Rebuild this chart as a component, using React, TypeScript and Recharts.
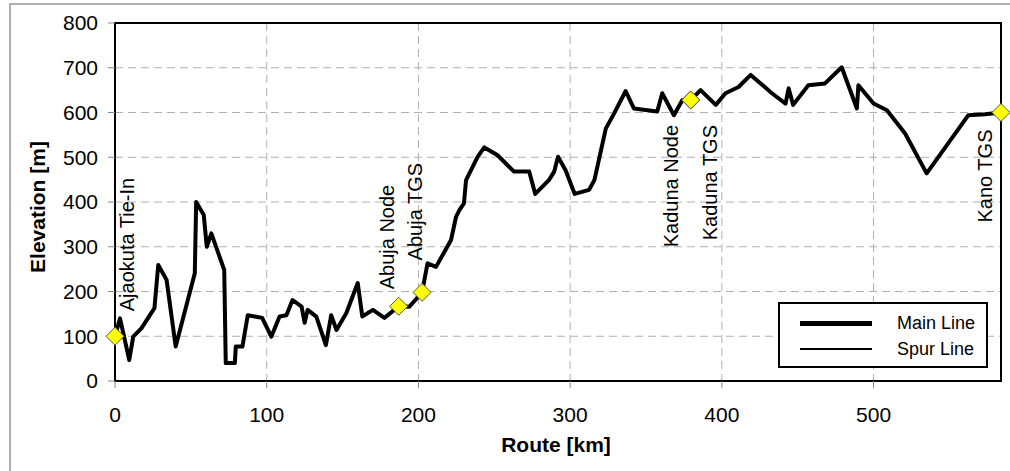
import React from 'react';
import {
  ComposedChart,
  Line,
  XAxis,
  YAxis,
  CartesianGrid,
  Legend,
  ReferenceArea,
  ReferenceDot,
  Label,
} from 'recharts';

// route profile (km, m)
const routeKm = [
  0, 3.3, 9.4, 12, 17.5, 26, 28.5, 34, 40, 52.6, 53.5, 58.5, 60.5, 63.5, 72, 73, 79, 79.6, 84, 87.5,
  97, 103, 108.5, 113, 117, 123, 125, 127, 132.7, 139, 142.5, 146, 152.5, 160, 163, 170, 177.6, 187, 194, 202.4,
  206, 211.6, 221.5, 224.8, 227, 230, 231.4, 239, 243.4, 252, 263, 273, 277, 286, 289.5, 292, 297, 303, 312.5, 316,
  323.5, 329, 336.6, 342, 357.4, 360.7, 368.4, 374, 379.5, 386, 396, 402.4, 411, 419, 433, 442, 444, 447, 457, 468,
  479, 489, 490, 500, 508.8, 520.8, 535, 562.5, 573.5, 584,
];
const routeElev = [
  100, 140, 47, 99, 118, 163, 259, 226, 77, 241, 400, 371, 300, 330, 248, 40, 40, 77, 77, 147,
  141, 99, 144, 147, 181, 166, 130, 159, 144, 80, 147, 114, 152, 219, 144, 159, 141, 167, 166, 198,
  263, 255, 315, 367, 382, 397, 449, 501, 522, 505, 468, 468, 418, 449, 468, 501, 471, 418, 427, 449,
  564, 598, 648, 609, 602, 643, 594, 628, 628, 650, 617, 643, 657, 684, 643, 620, 654, 617, 661, 665,
  701, 609, 661, 620, 605, 553, 464, 594, 596, 600,
];

// spur between Abuja Node and Abuja TGS
const spurKm = [187, 194, 202.4];
const spurElev = [167, 166, 198];

const stationNames = ['Ajaokuta Tie-In', 'Abuja Node', 'Abuja TGS', 'Kaduna Node', 'Kaduna TGS', 'Kano TGS'];
const stationKm = [0, 187, 202.4, 379.5, 379.5, 584];
const stationElev = [100, 167, 198, 628, 628, 600];

const xTicks = [0, 100, 200, 300, 400, 500];
const yTicks = [0, 100, 200, 300, 400, 500, 600, 700, 800];

// where each station name sits relative to its marker (px), and whether it hangs below
const labelPlacement = [
  { dx: 19, dy: -25, below: false },
  { dx: -5, dy: -17, below: false },
  { dx: 0, dy: -32, below: false },
  { dx: -13, dy: 25, below: true },
  { dx: 26, dy: 25, below: true },
  { dx: -9, dy: 17, below: true },
];

const mainData = routeKm.map((km, i) => ({ km, elev: routeElev[i] }));
const spurData = spurKm.map((km, i) => ({ km, elev: spurElev[i] }));

const FONT = 'Arial, "Liberation Sans", sans-serif';

function stationShape(i: number) {
  return (props: any) => {
    const { cx, cy } = props;
    const p = labelPlacement[i];
    const tx = cx + p.dx;
    const ty = cy + p.dy;
    return (
      <g>
        <polygon
          points={`${cx},${cy - 9} ${cx + 9},${cy} ${cx},${cy + 9} ${cx - 9},${cy}`}
          fill="#ffff00"
          stroke="#555"
          strokeWidth={1}
        />
        <text
          x={tx}
          y={ty}
          transform={`rotate(-90 ${tx} ${ty})`}
          textAnchor={p.below ? 'end' : 'start'}
          fontSize={20}
          fontFamily={FONT}
          fill="#000"
        >
          {stationNames[i]}
        </text>
      </g>
    );
  };
}

const renderLegend = (props: any) => {
  const items = props.payload || [];
  return (
    <div
      style={{
        width: 210,
        height: 66,
        boxSizing: 'border-box',
        border: '2px solid #000',
        background: '#fff',
        paddingTop: 6,
        fontFamily: FONT,
        fontSize: 18,
      }}
    >
      {items.map((it: any) => (
        <div key={it.value} style={{ display: 'flex', alignItems: 'center', height: 26 }}>
          <div
            style={{
              marginLeft: 20,
              width: 72,
              height: it.value === 'Main Line' ? 5 : 2,
              background: '#000',
            }}
          />
          <span style={{ marginLeft: 25 }}>{it.value}</span>
        </div>
      ))}
    </div>
  );
};

export default function App() {
  return (
    <div style={{ position: 'absolute', left: 0, top: 0, width: 1010, height: 471, background: '#fff' }}>
      <div
        style={{
          position: 'absolute',
          left: 9,
          top: 3,
          width: 1010,
          height: 480,
          borderLeft: '2px solid #b0b0b0',
          borderTop: '2px solid #b0b0b0',
        }}
      />
      <ComposedChart
        width={1010}
        height={471}
        margin={{ top: 23, right: 9, bottom: 60, left: 55 }}
        style={{ position: 'absolute', left: 0, top: 0, fontFamily: FONT }}
      >
        <CartesianGrid stroke="#b0b0b0" strokeDasharray="8 5" strokeWidth={1} />
        <XAxis
          type="number"
          dataKey="km"
          domain={[0, 584]}
          ticks={xTicks}
          axisLine={false}
          tickLine={{ stroke: '#888' }}
          tickSize={7}
          tickMargin={19}
          height={30}
          tick={{ fill: '#000', fontSize: 21, fontFamily: FONT }}
        >
          <Label
            content={() => (
              <text x={556} y={452} textAnchor="middle" fontSize={21} fontWeight="bold" fontFamily={FONT} fill="#000">
                Route [km]
              </text>
            )}
          />
        </XAxis>
        <YAxis
          type="number"
          domain={[0, 800]}
          ticks={yTicks}
          axisLine={false}
          tickLine={{ stroke: '#888' }}
          tickSize={7}
          tickMargin={10}
          width={60}
          tick={{ fill: '#000', fontSize: 21, fontFamily: FONT }}
        >
          <Label
            content={() => (
              <text
                x={45}
                y={207}
                transform="rotate(-90 45 207)"
                textAnchor="middle"
                fontSize={21}
                fontWeight="bold"
                fontFamily={FONT}
                fill="#000"
              >
                Elevation [m]
              </text>
            )}
          />
        </YAxis>
        <ReferenceArea x1={0} x2={584} y1={0} y2={800} fill="none" stroke="#000" strokeWidth={2} />
        <Line
          data={mainData}
          dataKey="elev"
          name="Main Line"
          type="linear"
          stroke="#000"
          strokeWidth={4}
          strokeLinejoin="round"
          dot={false}
          activeDot={false}
          isAnimationActive={false}
        />
        <Line
          data={spurData}
          dataKey="elev"
          name="Spur Line"
          type="linear"
          stroke="#000"
          strokeWidth={1.5}
          dot={false}
          activeDot={false}
          isAnimationActive={false}
        />
        {stationNames.map((name, i) => (
          <ReferenceDot key={name} x={stationKm[i]} y={stationElev[i]} r={9} shape={stationShape(i)} />
        ))}
        <Legend
          layout="horizontal"
          verticalAlign="middle"
          align="center"
          wrapperStyle={{ left: 778, top: 302, width: 210, height: 66 }}
          content={renderLegend}
        />
      </ComposedChart>
    </div>
  );
}
